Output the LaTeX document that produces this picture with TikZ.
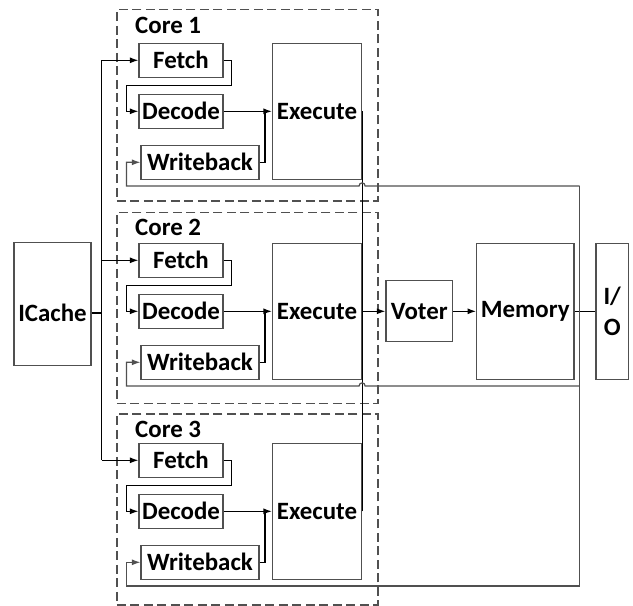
\documentclass[tikz,border=0pt]{standalone}
\usepackage{fontspec}
\setmainfont{Carlito}
\usetikzlibrary{arrows.meta,calc}
\definecolor{boxgray}{HTML}{505050}
\begin{document}
\begin{tikzpicture}[x=1bp,y=-1bp,
  every node/.style={font=\bfseries\fontsize{25}{31}\selectfont, inner sep=0pt, text=black},
  box/.style={draw=boxgray, line width=1.2bp, rectangle},
  corebox/.style={draw=boxgray, line width=1.2bp, dash pattern=on 9bp off 4.5bp, rectangle, minimum width=261bp, minimum height=191bp},
  wire/.style={draw=black, line width=1.2bp},
  fbwire/.style={draw=boxgray, line width=1.2bp},
  arr/.style={wire, -{Latex[length=8.5bp,width=6bp]}},
  fbarr/.style={fbwire, -{Latex[length=8.5bp,width=6bp]}}
]
\useasboundingbox (0,0) rectangle (633,606);

% ICache
\node[box, minimum width=77bp, minimum height=123bp] (icache) at (52.5,304.2) {};
\node (icl) at (52.5,313) {ICache};

% cores
\foreach \k/\dy/\ct in {1/0/9.3, 2/200/211.7, 3/400/413.3} {
  \node[corebox, anchor=north west] (core\k) at (116.3,\ct) {};
  \node[anchor=west] (cl\k) at (135,\ct+16) {Core \k};
  \node[box, minimum width=84bp, minimum height=34bp] (f\k) at (181,60.3+\dy) {Fetch};
  \node[box, minimum width=84bp, minimum height=34bp] (d\k) at (181,111.3+\dy) {Decode};
  \node[box, minimum width=118bp, minimum height=34bp] (w\k) at (200,162.3+\dy) {Writeback};
  \node[box, minimum width=89bp, minimum height=136bp] (e\k) at (317,111.3+\dy) {Execute};
  \coordinate (fb\k) at ($(e\k.south)+(0,6)$);
}

% voter, memory, I/O
\node[box, minimum width=66.7bp, minimum height=61bp] (voter) at (419.3,311.3) {Voter};
\node[box, minimum width=97.3bp, minimum height=136bp] (mem) at (525.3,311.3) {Memory};
\node[box, minimum width=32.3bp, minimum height=136bp, align=center] (io) at (612.2,311.3) {I/\\O};

% ICache distribution
\draw[wire] (icache.east |- icl) -- ++(10,0) coordinate (icx);
\draw[wire] (icx |- f1) -- (icx |- f3);

\foreach \k in {1,2,3} {
  \draw[arr] (icx |- f\k) -- (f\k.west);
  \draw[arr] (f\k.east) -- ++(8,0) -- ++(0,25) -| ($(d\k.west)+(-12,0)$) -- (d\k.west);
  \draw[arr] (d\k.east) -- (e\k.west);
  \draw[wire] (w\k.east) -| ($(e\k.west)+(-7,0)$);
}

% execute outputs to voter
\draw[wire] (e1.east) -- (e1.east |- e2.east);
\draw[wire] (e3.east) -- (e3.east |- e2.east);
\draw[arr] (e2.east) -- (voter.west);
\draw[arr] (voter.east) -- (mem.west);
\draw[wire] (mem.east) -- (io.west);

% writeback feedback from memory
\coordinate (fbx) at ($(mem.east)+(5,0)$);
\draw[fbwire] (fbx |- fb1) -- (fbx |- fb3);
\foreach \k in {1,2} {
  \draw[fbarr] (fbx |- fb\k) -- ($(e\k.east |- fb\k)+(3,0)$)
    .. controls +(0,-4) and +(0,-4) .. ++(-6,0)
    -- ($(w\k.west |- fb\k)+(-14,0)$) |- (w\k.west);
}
\draw[fbarr] (fbx |- fb3) -- ($(w3.west |- fb3)+(-14,0)$) |- (w3.west);

\end{tikzpicture}
\end{document}
